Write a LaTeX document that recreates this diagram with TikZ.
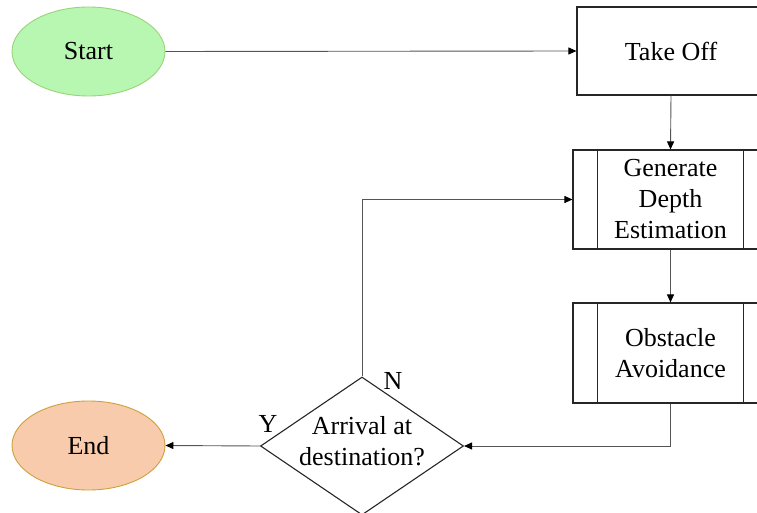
\documentclass[tikz,border=0pt]{standalone}
\usepackage{fontspec}
\setmainfont{Liberation Serif}
\usetikzlibrary{shapes.geometric,arrows.meta}
\definecolor{startfill}{HTML}{B8F7B2}
\definecolor{startdraw}{HTML}{9AD378}
\definecolor{endfill}{HTML}{F7CBAC}
\definecolor{enddraw}{HTML}{CFA03C}
\definecolor{boxdraw}{HTML}{262626}
\definecolor{linegray}{HTML}{555555}
\tikzset{
  txt/.style={font=\fontsize{26}{31}\selectfont, align=center, text=black},
  oval/.style={txt, ellipse, minimum width=153pt, minimum height=89pt, inner sep=0pt, line width=0.9pt},
  procbox/.style={txt, rectangle, draw=boxdraw, line width=1.1pt, inner sep=0pt},
  decbox/.style={txt, diamond, draw=boxdraw, line width=1.1pt, minimum width=203pt, minimum height=138pt, inner sep=0pt},
  conn/.style={draw=linegray, line width=0.9pt, -{Triangle[length=8pt,width=7pt,fill=black,color=black]}},
  lbl/.style={font=\fontsize{26}{31}\selectfont, text=black, inner sep=0pt}
}
\begin{document}
\begin{tikzpicture}[x=1pt,y=-1pt]
\useasboundingbox (0,0) rectangle (757,513);
\clip (0,0) rectangle (757,513);
\node[oval, fill=startfill, draw=startdraw] (start) at (88.5,51.5) {Start};
\node[procbox, minimum width=188pt, minimum height=88pt] (takeoff) at (671,51) {Take Off};
\node[procbox, minimum width=195pt, minimum height=99pt] (gen) at (670.5,199.5) {Generate\\Depth\\Estimation};
\node[procbox, minimum width=195pt, minimum height=100pt] (obs) at (670.5,353) {Obstacle\\Avoidance};
\node[decbox] (dec) at (362,446) {};
\node[txt] (dectext) at (362,441) {Arrival at\\destination?};
\node[oval, fill=endfill, draw=enddraw] (end) at (88.5,445.5) {End};
\draw[boxdraw, line width=1.1pt] ([xshift=25pt]gen.north west) -- ([xshift=25pt]gen.south west)
  ([xshift=-25pt]gen.north east) -- ([xshift=-25pt]gen.south east);
\draw[boxdraw, line width=1.1pt] ([xshift=25pt]obs.north west) -- ([xshift=25pt]obs.south west)
  ([xshift=-25pt]obs.north east) -- ([xshift=-25pt]obs.south east);
\draw[conn] (start.east) -- (takeoff.west);
\draw[conn] (takeoff.south) -- (gen.north);
\draw[conn] (gen.south) -- (obs.north);
\draw[conn] (obs.south) |- (dec.east);
\draw[conn] (dec.north) |- (gen.west);
\draw[conn] (dec.west) -- (end.east);
\node[lbl] (nlab) at (393,381) {N};
\node[lbl] (ylab) at (268,424) {Y};
\end{tikzpicture}
\end{document}
